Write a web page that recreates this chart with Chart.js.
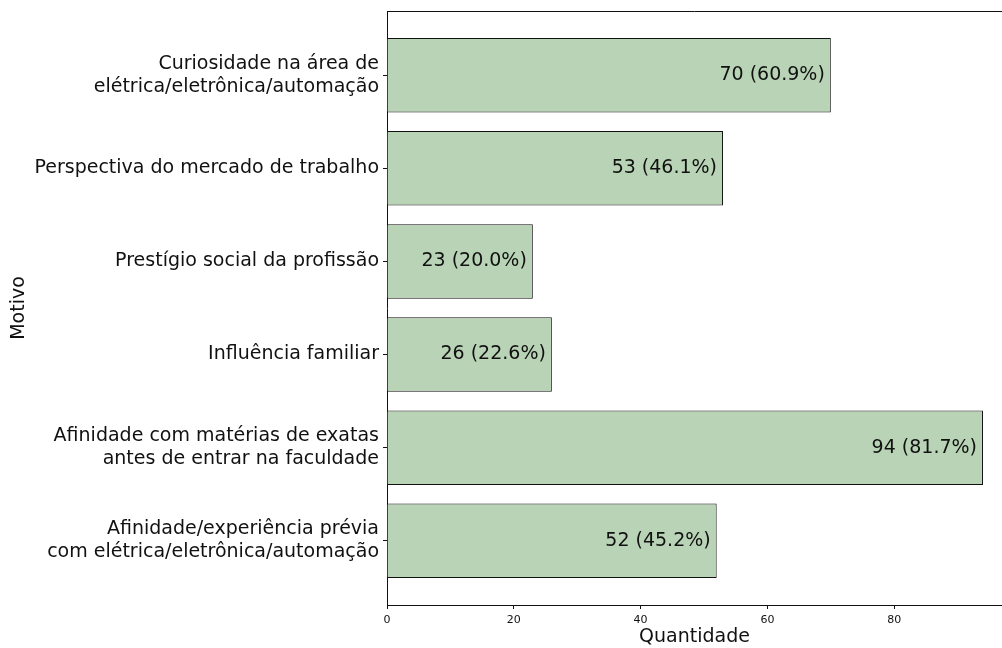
<!DOCTYPE html>
<html>
<head>
<meta charset="utf-8">
<script src="https://cdn.jsdelivr.net/npm/chart.js@4"></script>
<style>
  html, body { margin: 0; padding: 0; background: #fff; }
  #wrap { width: 1002px; height: 648px; }
</style>
</head>
<body>
<div id="wrap"><canvas id="motivosChart"></canvas></div>
<script>
// Motivos e quantidades
const motivos = [
    ['Curiosidade na área de', 'elétrica/eletrônica/automação'],
    'Perspectiva do mercado de trabalho',
    'Prestígio social da profissão',
    'Influência familiar',
    ['Afinidade com matérias de exatas', 'antes de entrar na faculdade'],
    ['Afinidade/experiência prévia', 'com elétrica/eletrônica/automação']
];
const quantidades = [70, 53, 23, 26, 94, 52];
const percentuais = ['60.9%', '46.1%', '20.0%', '22.6%', '81.7%', '45.2%'];
const xTicks = [0, 20, 40, 60, 80];

const FONT = 'DejaVu Sans';
const LINE = '#111';

// Plugin: rótulos dentro das barras + linha superior do quadro
const extras = {
    id: 'extras',
    afterDatasetsDraw(chart) {
        const { ctx, chartArea, scales } = chart;
        ctx.save();
        ctx.font = `19px "${FONT}"`;
        ctx.fillStyle = '#111';
        ctx.textAlign = 'right';
        ctx.textBaseline = 'middle';
        quantidades.forEach((q, i) => {
            const x = scales.x.getPixelForValue(q) - 6;
            const y = scales.y.getPixelForValue(i);
            ctx.fillText(`${q} (${percentuais[i]})`, x, y);
        });
        ctx.strokeStyle = LINE;
        ctx.lineWidth = 1;
        ctx.beginPath();
        ctx.moveTo(chartArea.left, chartArea.top + 0.5);
        ctx.lineTo(chartArea.right, chartArea.top + 0.5);
        ctx.stroke();
        ctx.restore();
    }
};

const data = {
    datasets: [{
        data: quantidades.map((q, i) => ({ x: q, y: i })),
        backgroundColor: '#b8d3b5',
        borderColor: LINE,
        borderWidth: 1,
        barPercentage: 0.8,
        categoryPercentage: 1
    }]
};

const options = {
    indexAxis: 'y',
    responsive: true,
    maintainAspectRatio: false,
    animation: false,
    layout: { padding: { top: 11, right: 0, left: 8, bottom: 0 } },
    plugins: {
        legend: { display: false },
        tooltip: { enabled: false }
    },
    scales: {
        x: {
            type: 'linear',
            min: 0,
            max: 97,
            afterBuildTicks: s => { s.ticks = xTicks.map(v => ({ value: v })); },
            afterFit: s => { s.height = 43; s.paddingLeft = 0; s.paddingRight = 0; },
            grid: { drawOnChartArea: false, tickLength: 4, color: LINE },
            border: { color: LINE, width: 1 },
            ticks: { color: '#111', font: { family: FONT, size: 11 }, padding: 5 },
            title: { display: true, text: 'Quantidade', color: '#111', font: { family: FONT, size: 19 }, padding: { top: 0, bottom: 0 } }
        },
        y: {
            type: 'linear',
            reverse: true,
            offset: false,
            min: -0.69,
            max: 5.69,
            afterBuildTicks: s => { s.ticks = motivos.map((m, i) => ({ value: i })); },
            afterFit: s => { s.width = 379; s.paddingTop = 0; s.paddingBottom = 0; },
            grid: { drawOnChartArea: false, offset: false, tickLength: 4, color: LINE },
            border: { color: LINE, width: 1 },
            ticks: {
                color: '#111',
                font: { family: FONT, size: 19 },
                padding: 4,
                autoSkip: false,
                callback: v => motivos[v]
            },
            title: { display: true, text: 'Motivo', color: '#111', font: { family: FONT, size: 19 }, padding: { top: 0, bottom: 0 } }
        }
    }
};

new Chart('motivosChart', { type: 'bar', data, options, plugins: [extras] });
</script>
</body>
</html>
